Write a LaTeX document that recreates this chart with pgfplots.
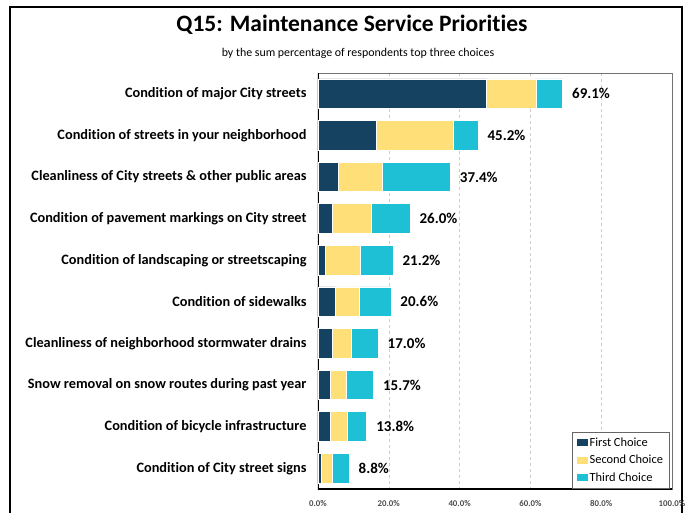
\documentclass[border=0pt]{standalone}
\usepackage{fontspec}
\setmainfont{Carlito}[Ligatures=NoCommon]
\usepackage{pgfplots}
\pgfplotsset{compat=1.18}
\usepackage{pgfplotstable}
\definecolor{FirstC}{RGB}{20,66,96}
\definecolor{SecondC}{RGB}{255,224,120}
\definecolor{ThirdC}{RGB}{30,192,214}

% idx 0 = top bar
\pgfplotstableread{
idx first second third total
0 47.7 14.1 7.3 69.1
1 16.4 21.8 7.0 45.2
2 5.9 12.3 19.2 37.4
3 4.1 11.1 10.8 26.0
4 2.2 9.8 9.2 21.2
5 4.8 6.9 8.9 20.6
6 4.1 5.2 7.7 17.0
7 3.4 4.7 7.6 15.7
8 3.4 5.0 5.4 13.8
9 0.9 3.3 4.6 8.8
}\datatable

\tikzset{totlab/.style={anchor=west, xshift=6pt, font=\bfseries\fontsize{15}{17}\selectfont}}

\begin{document}
\begin{tikzpicture}[x=1pt,y=1pt]
\useasboundingbox (0,0) rectangle (686,512);
\draw[line width=2pt] (10,-5) -- (10,505) -- (682,505) -- (682,-5);
\node[font=\bfseries\fontsize{23.5}{27}\selectfont] at (352,487) {Q15: Maintenance Service Priorities};
\node[font=\fontsize{11.9}{14}\selectfont] at (358,459) {by the sum percentage of respondents top three choices};

\begin{axis}[
  at={(318pt,23pt)}, anchor=south west,
  scale only axis,
  width=354pt, height=416pt,
  xbar stacked,
  bar width=29.7pt,
  xmin=0, xmax=100,
  ymin=-0.5, ymax=9.5,
  y dir=reverse,
  ytick={0,...,9},
  yticklabels={
    Condition of major City streets,
    Condition of streets in your neighborhood,
    Cleanliness of City streets \& other public areas,
    Condition of pavement markings on City street,
    Condition of landscaping or streetscaping,
    Condition of sidewalks,
    Cleanliness of neighborhood stormwater drains,
    Snow removal on snow routes during past year,
    Condition of bicycle infrastructure,
    Condition of City street signs
  },
  yticklabel style={font=\bfseries\fontsize{14.3}{16}\selectfont, xshift=-8pt},
  major tick length=0pt,
  xtick={0,20,...,100},
  xticklabel={\pgfmathprintnumber[assume math mode=true,fixed,fixed zerofill,precision=1]{\tick}\%},
  xticklabel style={font=\bfseries\fontsize{8.8}{10}\selectfont, text=black!70, yshift=-8pt},
  xmajorgrids,
  x grid style={dashed, black!20},
  axis line style={black!55},
  legend cell align=left,
  legend style={at={(axis description cs:0.992,0.002)}, anchor=south east,
    draw=black!60, font=\fontsize{12.4}{14}\selectfont, row sep=3.5pt,
    inner xsep=4pt, inner ysep=3pt},
  legend image code/.code={\fill[#1,draw=none] (0pt,-3.5pt) rectangle (11pt,3.5pt);},
]
\addplot[fill=FirstC, draw=white, line width=0.8pt] table[x=first, y=idx] {\datatable};
\addplot[fill=SecondC, draw=white, line width=0.8pt] table[x=second, y=idx] {\datatable};
\addplot[fill=ThirdC, draw=white, line width=0.8pt] table[x=third, y=idx] {\datatable};
\legend{First Choice\hspace{5pt}, Second Choice\hspace{5pt}, Third Choice\hspace{5pt}}
% totals at the end of each bar, read from the table
\pgfplotsinvokeforeach{0,...,9}{
  \pgfplotstablegetelem{#1}{total}\of\datatable
  \edef\tmp{\noexpand\node[totlab] at (axis cs:\pgfplotsretval,#1) {\pgfplotsretval\noexpand\%};}
  \tmp
}
\draw[black, line width=1.2pt] (axis description cs:0,1) -- (axis description cs:0,0) -- (axis description cs:1,0);
\end{axis}
\end{tikzpicture}
\end{document}
